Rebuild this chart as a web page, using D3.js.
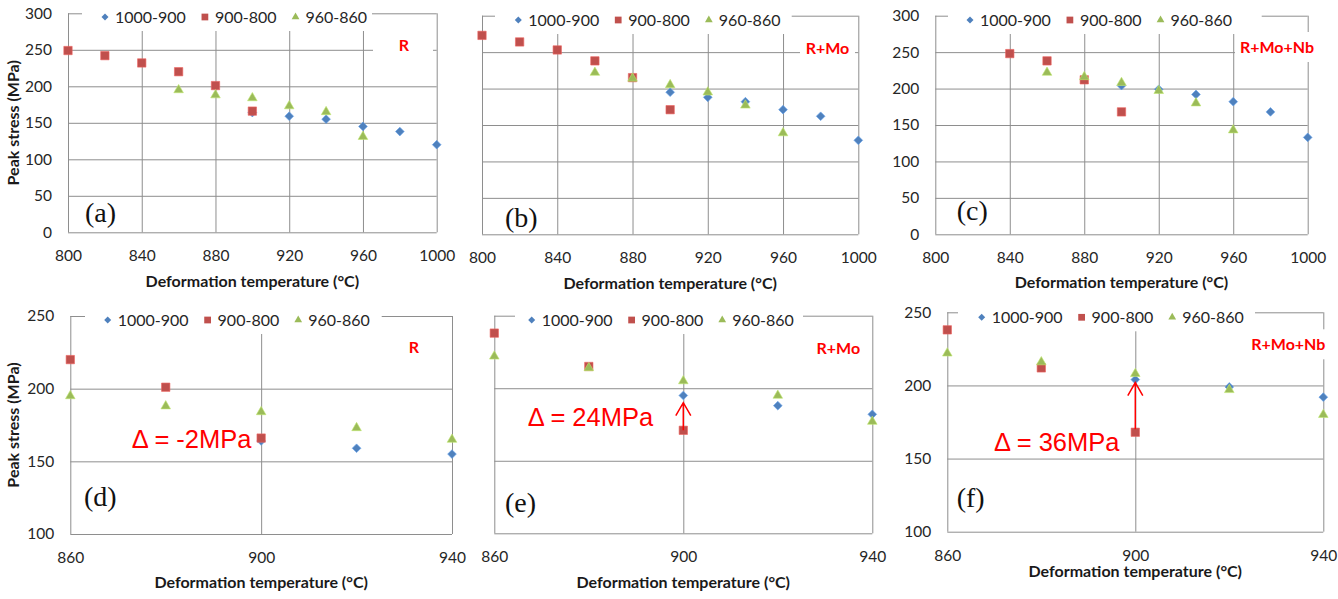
<!DOCTYPE html>
<html lang="en">
<head>
<meta charset="utf-8">
<title>Peak stress vs deformation temperature</title>
<script src="https://cdn.jsdelivr.net/npm/d3@7"></script>
<style>
    body { margin: 0; background: #fff; }
    svg { display: block; font-family: Lato, "Open Sans", sans-serif; }
    .tick text { font-size: 15.5px; fill: #262626; font-family: Lato, sans-serif; }
    .axis-title { font-size: 16px; font-weight: bold; fill: #1a1a1a; }
    .legend-text { font-size: 16px; fill: #262626; }
    .alloy-tag { font-size: 16px; font-weight: bold; fill: #ff0000; }
    .letter { font-family: "Liberation Serif", "DejaVu Serif", serif; font-size: 28px; fill: #111; }
    .delta { font-family: "Liberation Sans", Arial, sans-serif; font-size: 25.5px; fill: #ff0000; }
</style>
</head>
<body>
<svg id="chart" width="1338" height="599"></svg>
<script>

    // series / alloys
    var alloys = ['R', 'R+Mo', 'R+Mo+Nb'];
    var seriesNames = ['1000-900', '900-800', '960-860'];
    var seriesColors = ['#4F81BD', '#C0504D', '#9BBB59'];

    // deformation temperatures (°C) of each series
    var tempsBlue = [900, 920, 940, 960, 980, 1000];
    var tempsRed = [800, 820, 840, 860, 880, 900];
    var tempsGreen = [860, 880, 900, 920, 940, 960];

    // peak stress (MPa)
    var rBlue = [164, 159, 155, 145, 138, 120];
    var rRed = [249, 242, 232, 220, 201, 166];
    var rGreen = [195, 188, 184, 173, 165, 131];

    var moBlue = [195, 188, 182, 171, 162, 129];
    var moRed = [273, 264, 253, 238, 215, 171];
    var moGreen = [222, 214, 205, 195, 177, 139];

    var nbBlue = [204, 199, 192, 182, 168, 133];
    var nbRed = [null, null, 248, 238, 212, 168];
    var nbGreen = [222, 216, 208, 197, 180, 143];

    // ticks
    var xTicksFull = [800, 840, 880, 920, 960, 1000];
    var yTicksFull = [0, 50, 100, 150, 200, 250, 300];
    var xTicksZoom = [860, 900, 940];
    var yTicksZoom = [100, 150, 200, 250];

    // annotations of the zoomed panels (difference at 900 °C)
    var deltaLabels = ['\u0394 = -2MPa', '\u0394 = 24MPa', '\u0394 = 36MPa'];
    var arrowFrom = [null, 171, 170];
    var arrowTo = [null, 190, 202];

    function pairs(xs, ys) {
        return xs.map(function(t, i) { return {t: t, v: ys[i]}; })
            .filter(function(d) { return d.v != null; });
    }

    var steels = [
        [pairs(tempsBlue, rBlue), pairs(tempsRed, rRed), pairs(tempsGreen, rGreen)],
        [pairs(tempsBlue, moBlue), pairs(tempsRed, moRed), pairs(tempsGreen, moGreen)],
        [pairs(tempsBlue, nbBlue), pairs(tempsRed, nbRed), pairs(tempsGreen, nbGreen)]
    ];

    // layout of the six panels
    var panels = [
        {letter: '(a)', steel: 0, left: 68, right: 436.7, top: 13.3, bottom: 232.3, full: true,
            yLabels: true, yTitle: true, titleGap: 48.7, letterAt: [85, 215],
            tagAt: [404, 45], tagBox: [373, 433], legendAt: [105, 17], legendBox: [82, 372]},
        {letter: '(b)', steel: 1, left: 482, right: 858.3, top: 15.7, bottom: 234.3, full: true,
            yLabels: false, yTitle: false, titleGap: 48.7, letterAt: [505, 220],
            tagAt: [827.5, 48], tagBox: [800, 855], legendAt: [518.3, 20], legendBox: [495, 791.7]},
        {letter: '(c)', steel: 2, left: 935.3, right: 1307.7, top: 15.7, bottom: 234.3, full: true,
            yLabels: true, yTitle: false, titleGap: 47.7, letterAt: [956.7, 213],
            tagAt: [1277, 47], tagBox: [1235, 1320], legendAt: [970, 20], legendBox: [948, 1261.7]},
        {letter: '(d)', steel: 0, left: 70.3, right: 452, top: 316, bottom: 534, full: false,
            yLabels: true, yTitle: true, titleGap: 48, letterAt: [84, 499],
            tagAt: [414, 347.7], tagBox: [390, 438], legendAt: [107.7, 320], legendBox: [85, 381.7],
            deltaAt: [131.7, 439]},
        {letter: '(e)', steel: 1, left: 494.3, right: 872.3, top: 315.7, bottom: 533.3, full: false,
            yLabels: false, yTitle: false, titleGap: 48.7, letterAt: [505, 505],
            tagAt: [838.3, 348.3], tagBox: [810, 866], legendAt: [531.7, 320], legendBox: [515, 803],
            deltaAt: [527.7, 416.7]},
        {letter: '(f)', steel: 2, left: 947.3, right: 1323.3, top: 312.3, bottom: 531.7, full: false,
            yLabels: true, yTitle: false, titleGap: 40, letterAt: [956.7, 500],
            tagAt: [1288.3, 344.3], tagBox: [1245, 1332], legendAt: [981.7, 317.3], legendBox: [958, 1255],
            deltaAt: [994, 441.7]}
    ];

    var gridColor = '#8e8e8e';
    var svg = d3.select('#chart');

    function marker(i, scale) {
        var sizes = [38, 70, 40];
        var types = [d3.symbolSquare, d3.symbolSquare, d3.symbolTriangle];
        return d3.symbol().type(types[i]).size(sizes[i] * scale)();
    }

    function markerRotation(i) {
        return i === 0 ? ' rotate(45)' : '';
    }

    function drawPanel(p) {
        var g = svg.append('g');
        var xDomain = p.full ? [800, 1000] : [860, 940];
        var yDomain = p.full ? [0, 300] : [100, 250];
        var xTicks = p.full ? xTicksFull : xTicksZoom;
        var yTicks = p.full ? yTicksFull : yTicksZoom;

        var x = d3.scaleLinear().domain(xDomain).range([p.left, p.right]);
        var y = d3.scaleLinear().domain(yDomain).range([p.bottom, p.top]);

        // vertical gridlines + x tick labels
        var gx = g.append('g')
            .attr('transform', 'translate(0,' + p.bottom + ')')
            .call(d3.axisBottom(x).tickValues(xTicks).tickSize(-(p.bottom - p.top))
                .tickPadding(18).tickFormat(d3.format('d')));
        gx.select('.domain').remove();
        gx.selectAll('line').attr('stroke', gridColor);

        // horizontal gridlines + y tick labels
        var gy = g.append('g')
            .attr('transform', 'translate(' + p.left + ',0)')
            .call(d3.axisLeft(y).tickValues(yTicks).tickSize(-(p.right - p.left))
                .tickPadding(16).tickFormat(p.yLabels ? d3.format('d') : ''));
        gy.select('.domain').remove();
        gy.selectAll('line').attr('stroke', gridColor);
        gx.attr('font-family', null).attr('font-size', null);
        gy.attr('font-family', null).attr('font-size', null);

        // white boxes of legend and alloy tag
        g.append('rect')
            .attr('x', p.legendBox[0]).attr('y', p.legendAt[1] - 13)
            .attr('width', p.legendBox[1] - p.legendBox[0]).attr('height', 27)
            .attr('fill', '#fff');
        g.append('rect')
            .attr('x', p.tagBox[0]).attr('y', p.tagAt[1] - 15)
            .attr('width', p.tagBox[1] - p.tagBox[0]).attr('height', 30)
            .attr('fill', '#fff');

        // markers
        var data = steels[p.steel];
        data.forEach(function(series, i) {
            var pts = series.filter(function(d) {
                return d.t >= xDomain[0] && d.t <= xDomain[1] && d.v >= yDomain[0] && d.v <= yDomain[1];
            });
            g.append('g').selectAll('path')
                .data(pts)
                .enter()
                .append('path')
                .attr('d', marker(i, 1))
                .attr('transform', function(d) {
                    return 'translate(' + x(d.t) + ',' + y(d.v) + ')' + markerRotation(i);
                })
                .attr('fill', seriesColors[i])
                .attr('stroke', d3.color(seriesColors[i]).brighter(0.6))
                .attr('stroke-width', 0.6);
        });

        // legend
        var lx = p.legendAt[0];
        seriesNames.forEach(function(name, i) {
            g.append('path')
                .attr('d', marker(i, 0.65))
                .attr('transform', 'translate(' + lx + ',' + p.legendAt[1] + ')' + markerRotation(i))
                .attr('fill', seriesColors[i]);
            var t = g.append('text')
                .attr('class', 'legend-text')
                .attr('x', lx + 10)
                .attr('y', p.legendAt[1])
                .attr('dy', '0.35em')
                .text(name);
            lx += 10 + t.node().getComputedTextLength() + 19;
        });

        // alloy tag
        g.append('text')
            .attr('class', 'alloy-tag')
            .attr('x', p.tagAt[0]).attr('y', p.tagAt[1])
            .attr('dy', '0.35em')
            .attr('text-anchor', 'middle')
            .text(alloys[p.steel]);

        // panel letter
        g.append('text')
            .attr('class', 'letter')
            .attr('x', p.letterAt[0]).attr('y', p.letterAt[1] + 7)
            .text(p.letter);

        // axis titles
        g.append('text')
            .attr('class', 'axis-title')
            .attr('x', (p.left + p.right) / 2)
            .attr('y', p.bottom + p.titleGap)
            .attr('dy', '0.35em')
            .attr('text-anchor', 'middle')
            .text('Deformation temperature (\u00B0C)');

        if (p.yTitle) {
            g.append('text')
                .attr('class', 'axis-title')
                .attr('transform', 'translate(13,' + (p.top + p.bottom) / 2 + ') rotate(-90)')
                .attr('dy', '0.35em')
                .attr('text-anchor', 'middle')
                .text('Peak stress (MPa)');
        }

        // delta annotation and arrow
        if (p.deltaAt) {
            g.append('text')
                .attr('class', 'delta')
                .attr('x', p.deltaAt[0]).attr('y', p.deltaAt[1])
                .attr('dy', '0.35em')
                .text(deltaLabels[p.steel]);

            if (arrowFrom[p.steel] != null) {
                var ax = x(900), y0 = y(arrowFrom[p.steel]), y1 = y(arrowTo[p.steel]);
                g.append('path')
                    .attr('d', 'M' + ax + ',' + y0 + 'V' + y1 +
                        'M' + (ax - 7.5) + ',' + (y1 + 13) + 'L' + ax + ',' + y1 + 'L' + (ax + 7.5) + ',' + (y1 + 13))
                    .attr('fill', 'none')
                    .attr('stroke', '#ff0000')
                    .attr('stroke-width', 1.5);
            }
        }
    }

    panels.forEach(drawPanel);
</script>
</body>
</html>
